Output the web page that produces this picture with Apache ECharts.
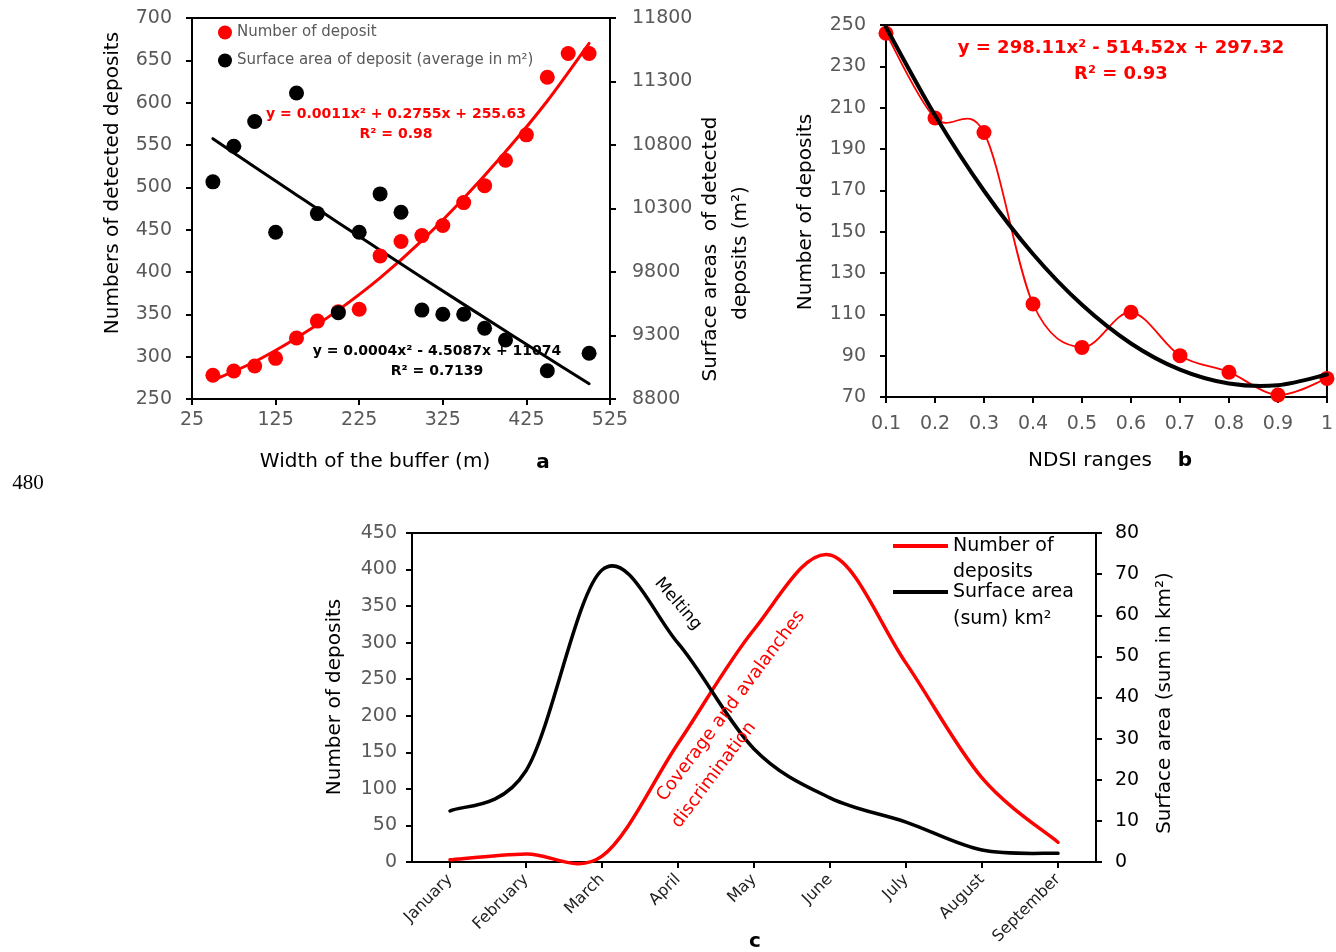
<!DOCTYPE html>
<html>
<head>
<meta charset="utf-8">
<script src="https://cdn.jsdelivr.net/npm/echarts@6/dist/echarts.min.js"></script>
<style>
  html, body { margin: 0; padding: 0; background: #fff; }
  #main { width: 1336px; height: 952px; }
</style>
</head>
<body>
<div id="main"></div>
<script>
// ---- chart a : buffer width ----
var aWidth      = [50, 75, 100, 125, 150, 175, 200, 225, 250, 275, 300, 325, 350, 375, 400, 425, 450, 475, 500];
var aCount      = [278, 283, 289, 298, 322, 342, 353, 356, 419, 436, 443, 455, 482, 502, 532, 562, 630, 658, 658];
var aAreaWidth  = [50, 75, 100, 125, 150, 175, 200, 225, 250, 275, 300, 325, 350, 375, 400, 450, 500];
var aArea       = [10510, 10790, 10985, 10113, 11210, 10260, 9480, 10113, 10415, 10270, 9500, 9467, 9467, 9357, 9265, 9023, 9160];
// trend lines
var aTrendX     = [50, 100, 150, 200, 250, 300, 350, 400, 450, 500];
var aCountTrend = [272, 294, 322, 355, 393, 437, 487, 542, 602, 670];
var aAreaTrend  = [10850, 10627, 10407, 10188, 9972, 9757, 9545, 9335, 9126, 8920];

// ---- chart b : NDSI ranges ----
var bNdsi   = [0.1, 0.2, 0.3, 0.4, 0.5, 0.6, 0.7, 0.8, 0.9, 1.0];
var bCount  = [246, 205, 198, 115, 94, 111, 90, 82, 71, 79];
var bTrend  = [248.9, 206.3, 169.8, 139.2, 114.6, 95.9, 83.2, 76.5, 75.7, 80.9];

// ---- chart c : months ----
var cMonths = ['January', 'February', 'March', 'April', 'May', 'June', 'July', 'August', 'September'];
var cCount  = [3, 11, 8, 162, 318, 420, 272, 115, 27];
var cArea   = [12.4, 22.2, 71, 53.2, 27.5, 15.6, 9.7, 2.9, 2.1];

function pairs(xs, ys) {
  var out = [];
  for (var i = 0; i < xs.length; i++) out.push([xs[i], ys[i]]);
  return out;
}

var FONT = "'DejaVu Sans', sans-serif";
var GREY = '#595959';

// excel-like smoothed line, drawn through the axis scales
function curve(name, xi, yi, pts, color, width, z) {
  return {
    name: name, type: 'custom', xAxisIndex: xi, yAxisIndex: yi, data: pts, z: z || 3,
    encode: { x: 0, y: 1 },
    renderItem: function (params, api) {
      if (params.dataIndex !== 0) return null;
      var c = pts.map(function (p) { return api.coord(p); });
      var n = c.length;
      var d = 'M' + c[0][0] + ' ' + c[0][1];
      for (var i = 0; i < n - 1; i++) {
        var p0 = c[Math.max(i - 1, 0)], p1 = c[i], p2 = c[i + 1], p3 = c[Math.min(i + 2, n - 1)];
        var c1x = p1[0] + (p2[0] - p0[0]) / 6, c1y = p1[1] + (p2[1] - p0[1]) / 6;
        var c2x = p2[0] - (p3[0] - p1[0]) / 6, c2y = p2[1] - (p3[1] - p1[1]) / 6;
        d += ' C' + c1x + ' ' + c1y + ' ' + c2x + ' ' + c2y + ' ' + p2[0] + ' ' + p2[1];
      }
      return {
        type: 'path', silent: true,
        shape: { pathData: d },
        style: { stroke: color, lineWidth: width, fill: 'none', lineJoin: 'round', lineCap: 'round' }
      };
    }
  };
}

function axisBase(extra) {
  var o = {
    axisLine: { show: true, onZero: false, lineStyle: { color: '#000', width: 2 } },
    axisTick: { show: true, length: 6, lineStyle: { color: '#000', width: 2 } },
    splitLine: { show: false },
    axisLabel: { color: GREY, fontSize: 19, fontFamily: FONT, formatter: function (v) { return String(v); } }
  };
  for (var k in extra) {
    if (typeof extra[k] === 'object' && o[k] && !Array.isArray(extra[k])) {
      for (var j in extra[k]) o[k][j] = extra[k][j];
    } else {
      o[k] = extra[k];
    }
  }
  return o;
}

function txt(x, y, text, opt) {
  opt = opt || {};
  return {
    type: 'text', x: x, y: y, rotation: opt.rot || 0, z: 100,
    style: {
      text: text, fill: opt.color || '#000', fontSize: opt.size || 20,
      fontWeight: opt.bold ? 'bold' : 'normal', fontFamily: opt.family || FONT,
      align: opt.align || 'center', verticalAlign: 'middle'
    }
  };
}

var myChart = echarts.init(document.getElementById('main'));

var option = {
  animation: false,
  backgroundColor: '#fff',
  textStyle: { fontFamily: FONT },
  grid: [
    { left: 192, top: 18, width: 418, height: 381, show: true, borderColor: '#000', borderWidth: 2 },
    { left: 886, top: 25, width: 443, height: 372, show: true, borderColor: '#000', borderWidth: 2 },
    { left: 412, top: 533, width: 684, height: 329, show: true, borderColor: '#000', borderWidth: 2 }
  ],
  legend: [{
    left: 218, top: 25, orient: 'vertical', itemGap: 13, itemWidth: 14, itemHeight: 14, padding: 0,
    icon: 'circle',
    data: ['Number of deposit', 'Surface area of deposit (average in m²)'],
    textStyle: { color: GREY, fontSize: 15, fontFamily: FONT }
  }],
  xAxis: [
    axisBase({ type: 'value', gridIndex: 0, min: 25, max: 525, interval: 100,
      axisLabel: { margin: 12 } }),
    axisBase({ type: 'value', gridIndex: 1, min: 0.1, max: 1, interval: 0.1,
      axisLabel: { margin: 18, formatter: function (v) { return Math.abs(v - 1) < 1e-6 ? '1' : v.toFixed(1); } } }),
    axisBase({ type: 'category', gridIndex: 2, data: cMonths, boundaryGap: true,
      axisTick: { alignWithLabel: true },
      axisLabel: { rotate: 45, fontSize: 16, color: '#222', margin: 15, interval: 0 } })
  ],
  yAxis: [
    axisBase({ type: 'value', gridIndex: 0, min: 250, max: 700, interval: 50,
      axisLabel: { margin: 20 } }),
    axisBase({ type: 'value', gridIndex: 0, position: 'right', min: 8800, max: 11800, interval: 500,
      axisLabel: { margin: 22 } }),
    axisBase({ type: 'value', gridIndex: 1, min: 70, max: 250, interval: 20,
      axisLabel: { margin: 20 } }),
    axisBase({ type: 'value', gridIndex: 2, min: 0, max: 450, interval: 50,
      axisLabel: { margin: 15 } }),
    axisBase({ type: 'value', gridIndex: 2, position: 'right', min: 0, max: 80, interval: 10,
      axisLabel: { margin: 19, color: '#000' } })
  ],
  series: [
    // chart a
    curve('Count trend', 0, 0, pairs(aTrendX, aCountTrend), '#ff0000', 3, 3),
    curve('Area trend', 0, 1, pairs(aTrendX, aAreaTrend), '#000', 3, 3),
    { name: 'Number of deposit', type: 'scatter', xAxisIndex: 0, yAxisIndex: 0, symbolSize: 15,
      itemStyle: { color: '#ff0000', opacity: 1 }, data: pairs(aWidth, aCount), z: 4 },
    { name: 'Surface area of deposit (average in m²)', type: 'scatter', xAxisIndex: 0, yAxisIndex: 1, symbolSize: 15,
      itemStyle: { color: '#000', opacity: 1 }, data: pairs(aAreaWidth, aArea), z: 5 },
    // chart b
    curve('NDSI count line', 1, 2, pairs(bNdsi, bCount), '#ff0000', 1.8, 3),
    { name: 'NDSI count', type: 'scatter', xAxisIndex: 1, yAxisIndex: 2, symbolSize: 15,
      itemStyle: { color: '#ff0000', opacity: 1 }, data: pairs(bNdsi, bCount), z: 4 },
    curve('NDSI trend', 1, 2, pairs(bNdsi, bTrend), '#000', 4, 5),
    // chart c
    curve('Number of deposits', 2, 3, pairs([0, 1, 2, 3, 4, 5, 6, 7, 8], cCount), '#ff0000', 3.5, 3),
    curve('Surface area (sum) km²', 2, 4, pairs([0, 1, 2, 3, 4, 5, 6, 7, 8], cArea), '#000', 3.5, 3)
  ],
  graphic: [
    txt(28, 483, '480', { family: "'Liberation Serif', serif", size: 21 }),
    // chart a texts
    txt(113, 183, 'Numbers of detected deposits', { rot: Math.PI / 2 }),
    txt(711, 249, 'Surface areas  of detected', { rot: Math.PI / 2 }),
    txt(741, 253, 'deposits (m²)', { rot: Math.PI / 2 }),
    txt(375, 462, 'Width of the buffer (m)'),
    txt(543, 463, 'a', { bold: true }),
    txt(396, 114, 'y = 0.0011x² + 0.2755x + 255.63', { color: '#ff0000', bold: true, size: 14 }),
    txt(396, 134, 'R² = 0.98', { color: '#ff0000', bold: true, size: 14 }),
    txt(437, 351, 'y = 0.0004x² - 4.5087x + 11074', { bold: true, size: 14 }),
    txt(437, 371, 'R² = 0.7139', { bold: true, size: 14 }),
    // chart b texts
    txt(806, 212, 'Number of deposits', { rot: Math.PI / 2 }),
    txt(1090, 461, 'NDSI ranges'),
    txt(1185, 461, 'b', { bold: true }),
    txt(1121, 48, 'y = 298.11x² - 514.52x + 297.32', { color: '#ff0000', bold: true, size: 18 }),
    txt(1121, 74, 'R² = 0.93', { color: '#ff0000', bold: true, size: 18 }),
    // chart c texts
    txt(335, 697, 'Number of deposits', { rot: Math.PI / 2 }),
    txt(1165, 703, 'Surface area (sum in km²)', { rot: Math.PI / 2 }),
    txt(755, 942, 'c', { bold: true }),
    txt(678, 604, 'Melting', { rot: -0.86, size: 17 }),
    txt(731, 706, 'Coverage and avalanches', { rot: 0.925, size: 18, color: '#ff0000' }),
    txt(714, 775, 'discrimination', { rot: 0.925, size: 18, color: '#ff0000' }),
    // chart c legend
    { type: 'line', z: 100, shape: { x1: 893, y1: 546, x2: 948, y2: 546 }, style: { stroke: '#ff0000', lineWidth: 4 } },
    txt(953, 546, 'Number of', { align: 'left', size: 19 }),
    txt(953, 572, 'deposits', { align: 'left', size: 19 }),
    { type: 'line', z: 100, shape: { x1: 893, y1: 592, x2: 948, y2: 592 }, style: { stroke: '#000', lineWidth: 4 } },
    txt(953, 592, 'Surface area', { align: 'left', size: 19 }),
    txt(953, 619, '(sum) km²', { align: 'left', size: 19 })
  ]
};

myChart.setOption(option);
</script>
</body>
</html>
